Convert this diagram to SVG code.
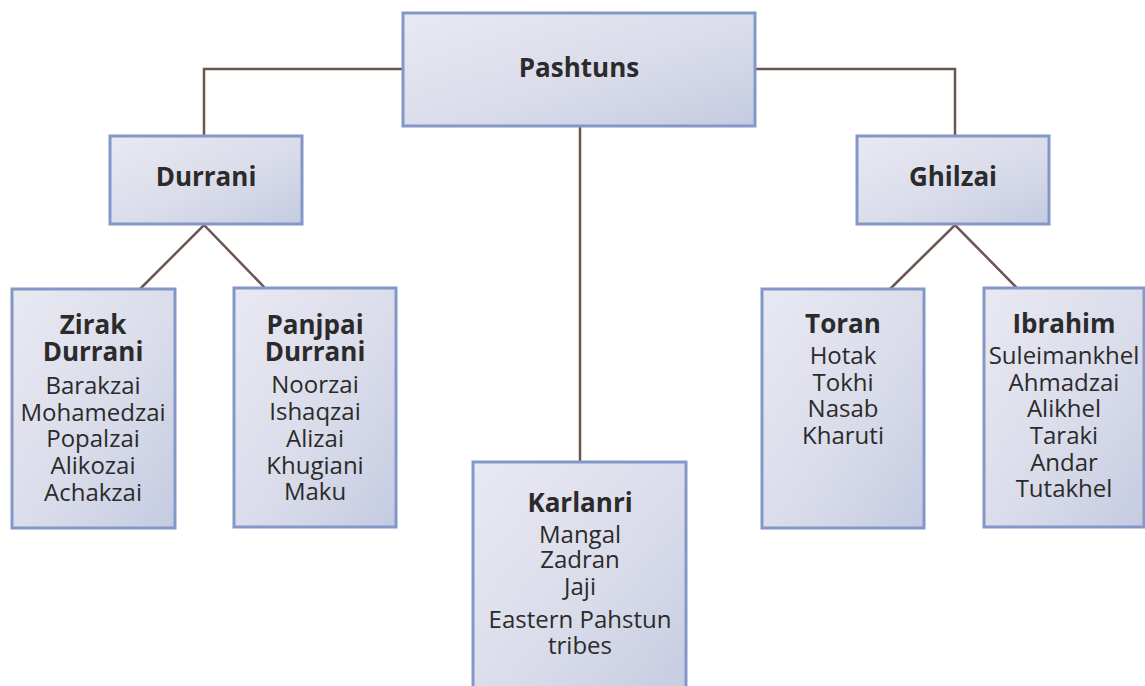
<svg xmlns="http://www.w3.org/2000/svg" width="1145" height="686" viewBox="0 0 1145 686">
<defs>
<linearGradient id="g" x1="0" y1="0" x2="1" y2="1">
<stop offset="0" stop-color="#e9e9f2"/>
<stop offset="0.55" stop-color="#dadcea"/>
<stop offset="1" stop-color="#c4cbe1"/>
</linearGradient>
<style>
.box{fill:url(#g);stroke:#8497c9;stroke-width:3}
.ln{fill:none;stroke:#6d5550;stroke-width:2.5}
text{font-family:"Open Sans","Noto Sans","Liberation Sans",sans-serif;fill:#2b2b2b;text-anchor:middle}
.t{font-weight:bold;font-size:26px}
.b{font-size:24px}
</style>
</defs>
<rect width="1145" height="686" fill="#ffffff"/>
<g id="connectors">
<polyline class="ln" points="403,69 204,69 204,136"/>
<polyline class="ln" points="755,69 955,69 955,136"/>
<line class="ln" x1="580" y1="126" x2="580" y2="462"/>
<polyline class="ln" points="140,289 204,225 266,289"/>
<polyline class="ln" points="890,289 955,225 1018,289"/>
</g>
<g id="pashtuns">
<rect class="box" x="403" y="13" width="352" height="113"/>
<text class="t" x="579" y="77">Pashtuns</text>
</g>
<g id="durrani">
<rect class="box" x="110" y="136" width="192" height="88"/>
<text class="t" x="206" y="186">Durrani</text>
</g>
<g id="ghilzai">
<rect class="box" x="857" y="136" width="192" height="88"/>
<text class="t" x="953" y="186">Ghilzai</text>
</g>
<g id="zirak">
<rect class="box" x="12" y="289" width="163" height="239"/>
<text class="t" x="93" y="334">Zirak</text>
<text class="t" x="93" y="361">Durrani</text>
<text class="b" x="93" y="394">Barakzai</text>
<text class="b" x="93" y="421">Mohamedzai</text>
<text class="b" x="93" y="447">Popalzai</text>
<text class="b" x="93" y="474">Alikozai</text>
<text class="b" x="93" y="501">Achakzai</text>
</g>
<g id="panjpai">
<rect class="box" x="234" y="288" width="162" height="239"/>
<text class="t" x="315" y="334">Panjpai</text>
<text class="t" x="315" y="361">Durrani</text>
<text class="b" x="315" y="393">Noorzai</text>
<text class="b" x="315" y="420">Ishaqzai</text>
<text class="b" x="315" y="447">Alizai</text>
<text class="b" x="315" y="474">Khugiani</text>
<text class="b" x="315" y="500">Maku</text>
</g>
<g id="karlanri">
<rect class="box" x="473" y="462" width="213" height="240"/>
<text class="t" x="580" y="512">Karlanri</text>
<text class="b" x="580" y="543">Mangal</text>
<text class="b" x="580" y="568">Zadran</text>
<text class="b" x="580" y="595">Jaji</text>
<text class="b" x="580" y="628">Eastern Pahstun</text>
<text class="b" x="580" y="654">tribes</text>
</g>
<g id="toran">
<rect class="box" x="762" y="289" width="162" height="239"/>
<text class="t" x="843" y="333">Toran</text>
<text class="b" x="843" y="364">Hotak</text>
<text class="b" x="843" y="391">Tokhi</text>
<text class="b" x="843" y="417">Nasab</text>
<text class="b" x="843" y="444">Kharuti</text>
</g>
<g id="ibrahim">
<rect class="box" x="984" y="288" width="160" height="239"/>
<text class="t" x="1064" y="333">Ibrahim</text>
<text class="b" x="1064" y="364">Suleimankhel</text>
<text class="b" x="1064" y="391">Ahmadzai</text>
<text class="b" x="1064" y="417">Alikhel</text>
<text class="b" x="1064" y="444">Taraki</text>
<text class="b" x="1064" y="471">Andar</text>
<text class="b" x="1064" y="497">Tutakhel</text>
</g>
</svg>
